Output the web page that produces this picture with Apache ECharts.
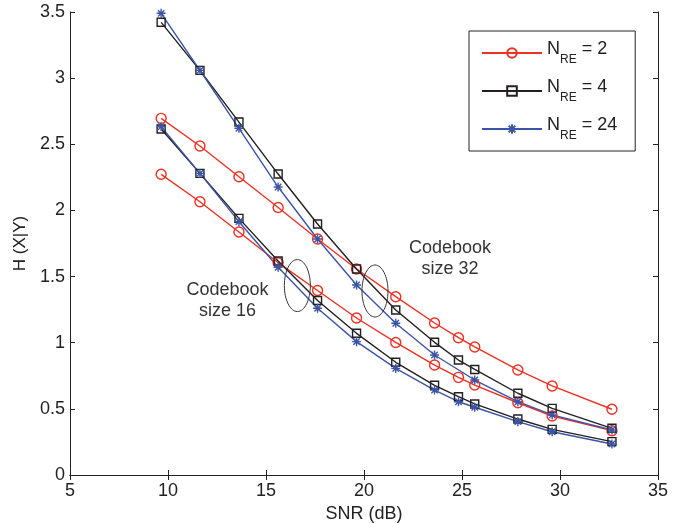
<!DOCTYPE html>
<html>
<head>
<meta charset="utf-8">
<script src="https://cdn.jsdelivr.net/npm/echarts@6/dist/echarts.min.js"></script>
<style>
html,body{margin:0;padding:0;background:#fff;}
#chart{width:685px;height:523px;}
</style>
</head>
<body>
<div id="chart"></div>
<script>
// SNR values (dB)
const snr = [9.65, 11.63, 13.62, 15.62, 17.63, 19.62, 21.62, 23.6, 24.82, 25.65, 27.85, 29.6, 32.65];
// Codebook size 32
const nre2_cb32  = [2.696, 2.487, 2.255, 2.022, 1.784, 1.557, 1.348, 1.149, 1.038, 0.968, 0.794, 0.673, 0.497];
const nre4_cb32  = [3.422, 3.059, 2.668, 2.275, 1.897, 1.557, 1.247, 1.003, 0.869, 0.798, 0.618, 0.504, 0.353];
const nre24_cb32 = [3.490, 3.059, 2.621, 2.177, 1.784, 1.436, 1.147, 0.907, null, 0.718, 0.554, 0.454, 0.340];
// Codebook size 16
const nre2_cb16  = [2.273, 2.066, 1.837, 1.605, 1.395, 1.187, 1.002, 0.831, 0.738, 0.680, 0.546, 0.446, 0.335];
const nre4_cb16  = [2.615, 2.280, 1.940, 1.618, 1.319, 1.071, 0.852, 0.678, 0.592, 0.537, 0.423, 0.345, 0.252];
const nre24_cb16 = [2.633, 2.280, 1.915, 1.570, 1.260, 1.008, 0.806, 0.642, 0.554, 0.512, 0.403, 0.327, 0.234];

const xTicks = [5, 10, 15, 20, 25, 30, 35];
const yTicks = [0, 0.5, 1, 1.5, 2, 2.5, 3, 3.5];

const legendNames = ['N_RE = 2', 'N_RE = 4', 'N_RE = 24'];
const legendLabels = {'N_RE = 2': '2', 'N_RE = 4': '4', 'N_RE = 24': '24'};

// annotations (data coordinates)
const annotTexts = [
  {text: 'Codebook\nsize 16', x: 13.04, y: 1.319},
  {text: 'Codebook\nsize 32', x: 24.39, y: 1.633}
];
const annotEllipses = [
  {x: 16.6, y: 1.432},
  {x: 20.56, y: 1.391}
];

const RED = '#ee3124', BLACK = '#231f20', BLUE = '#3b55a6';
const FONT = '"Liberation Sans", Arial, Helvetica, sans-serif';
const STAR = 'path://M0,-10L0,10M-10,0L10,0M-7.07,-7.07L7.07,7.07M-7.07,7.07L7.07,-7.07';

function mk(name, vals, color, symbol, size) {
  const data = [];
  snr.forEach((x, i) => { if (vals[i] !== null) data.push([x, vals[i]]); });
  return {
    name: name, type: 'line', data: data,
    symbol: symbol, symbolSize: size, showSymbol: true,
    lineStyle: {color: color, width: 1.4},
    itemStyle: {color: 'rgba(255,255,255,0)', borderColor: color, borderWidth: 1.4},
    emphasis: {disabled: true},
    animation: false, z: 2
  };
}

const chart = echarts.init(document.getElementById('chart'));
const axisLine = {show: true, lineStyle: {color: '#222', width: 1}};
const tick = {show: true, inside: true, length: 5, lineStyle: {color: '#222'}};
chart.setOption({
  animation: false,
  textStyle: {fontFamily: FONT},
  grid: {left: 70, right: 27, top: 12, bottom: 48, containLabel: false, outerBoundsMode: 'none'},
  legend: {
    data: legendNames,
    orient: 'vertical',
    left: 469, top: 31,
    padding: [9, 18, 9, 12],
    itemGap: 12,
    itemWidth: 60, itemHeight: 12,
    borderColor: '#222', borderWidth: 1,
    backgroundColor: '#fff',
    formatter: function (n) { return '{n|N}{s|RE}{n| = ' + legendLabels[n] + '}'; },
    textStyle: {
      fontFamily: FONT,
      rich: {
        n: {fontSize: 18, color: '#222', lineHeight: 26, verticalAlign: 'top', fontFamily: FONT},
        s: {fontSize: 12, color: '#222', lineHeight: 26, verticalAlign: 'bottom', fontFamily: FONT}
      }
    }
  },
  xAxis: [
    {type: 'value', min: 5, max: 35, interval: 5, position: 'bottom',
     name: 'SNR (dB)', nameLocation: 'middle', nameGap: 30,
     nameTextStyle: {fontSize: 18, color: '#222', fontFamily: FONT},
     axisLine: axisLine, axisTick: tick, splitLine: {show: false},
     axisLabel: {fontSize: 18, color: '#222', margin: 7, fontFamily: FONT}},
    {type: 'value', min: 5, max: 35, interval: 5, position: 'top',
     axisLine: axisLine, axisTick: tick, splitLine: {show: false},
     axisLabel: {show: false}}
  ],
  yAxis: [
    {type: 'value', min: 0, max: 3.5, interval: 0.5, position: 'left',
     name: 'H (X|Y)', nameLocation: 'middle', nameGap: 40,
     nameTextStyle: {fontSize: 17, color: '#222', fontFamily: FONT},
     axisLine: axisLine, axisTick: tick, splitLine: {show: false},
     axisLabel: {fontSize: 18, color: '#222', margin: 5, fontFamily: FONT}},
    {type: 'value', min: 0, max: 3.5, interval: 0.5, position: 'right',
     axisLine: axisLine, axisTick: tick, splitLine: {show: false},
     axisLabel: {show: false}}
  ],
  series: [
    mk('N_RE = 2', nre2_cb32, RED, 'circle', 10),
    mk('N_RE = 2', nre2_cb16, RED, 'circle', 10),
    mk('N_RE = 4', nre4_cb32, BLACK, 'rect', 8),
    mk('N_RE = 4', nre4_cb16, BLACK, 'rect', 8),
    mk('N_RE = 24', nre24_cb32, BLUE, STAR, 9),
    mk('N_RE = 24', nre24_cb16, BLUE, STAR, 9)
  ]
});

const graphics = [];
annotTexts.forEach(a => {
  const p = chart.convertToPixel({gridIndex: 0}, [a.x, a.y]);
  graphics.push({type: 'text', x: p[0], y: p[1], z: 10,
    style: {text: a.text, fill: '#333', font: '18px ' + FONT, align: 'center', verticalAlign: 'middle', lineHeight: 21}});
});
annotEllipses.forEach(e => {
  const p = chart.convertToPixel({gridIndex: 0}, [e.x, e.y]);
  graphics.push({type: 'ellipse', z: 10, shape: {cx: p[0], cy: p[1], rx: 13, ry: 26},
    style: {fill: 'none', stroke: '#333', lineWidth: 1}});
});
chart.setOption({graphic: graphics});
</script>
</body>
</html>
